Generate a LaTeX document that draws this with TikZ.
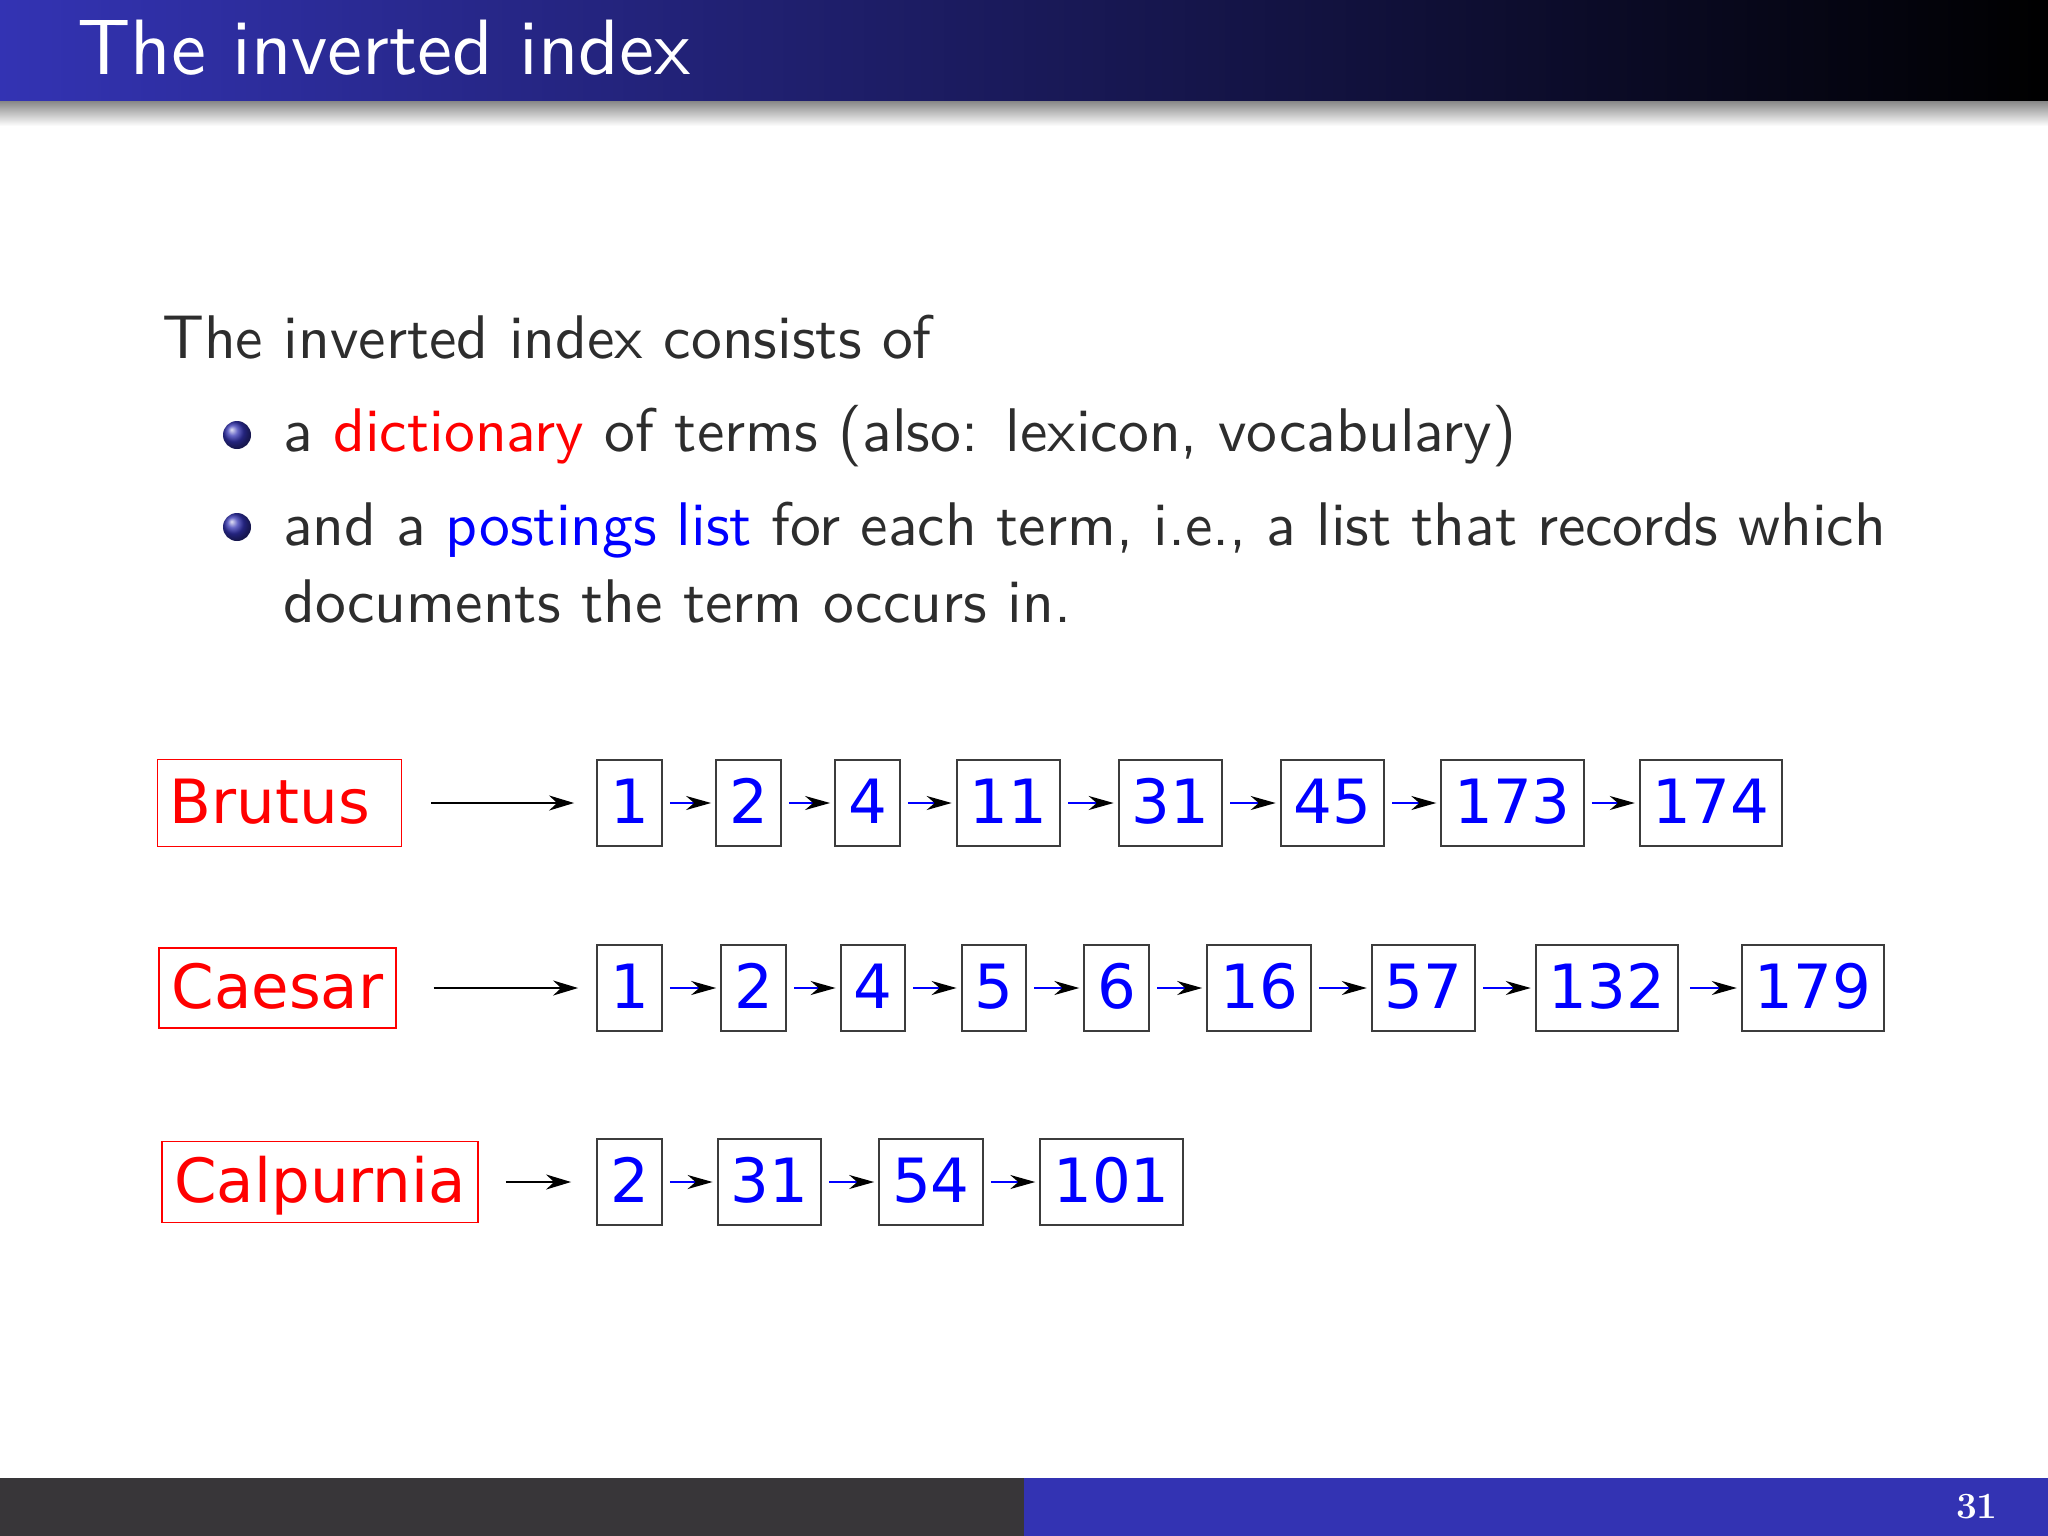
\documentclass[tikz,border=0pt]{standalone}
\usepackage{fontspec}
\newfontfamily\dejavu{DejaVu Sans}
\newfontfamily\lmsansten{lmsans10-regular.otf}
\usetikzlibrary{arrows.meta}
\definecolor{structblue}{RGB}{51,51,179}
\definecolor{headmid}{RGB}{30,28,100}
\definecolor{footgray}{RGB}{56,54,57}
\definecolor{txtgray}{RGB}{45,45,45}
\definecolor{shadowgray}{RGB}{140,140,140}
\definecolor{boxgray}{RGB}{60,60,60}
\tikzset{
  body/.style={anchor=base west, inner sep=0pt, text=txtgray, font=\lmsansten\fontsize{61.6}{74}\selectfont},
  term/.style={draw=red, line width=1.5pt, text=red, font=\dejavu\fontsize{61}{70}\selectfont,
    inner xsep=12.5pt, inner ysep=0pt, text height=45pt, text depth=4pt, minimum height=81pt},
  post/.style={draw=boxgray, line width=2pt, text=blue, font=\dejavu\fontsize{61}{70}\selectfont,
    inner xsep=13pt, inner ysep=0pt, text height=45pt, text depth=4pt, minimum height=86pt},
  link/.style={draw=blue, line width=2pt, -{Stealth[black,length=25pt,width=14pt,inset=8pt]},
    shorten <=7pt, shorten >=4pt},
  ptr/.style={draw=black, line width=2.2pt, -{Stealth[black,length=25pt,width=15pt,inset=8pt]},
    shorten <=29pt, shorten >=22pt},
  bullet/.style={ball color=structblue}
}
\begin{document}
\begin{tikzpicture}[x=1pt,y=-1pt]
\useasboundingbox (0,0) rectangle (2048,1536);
\fill[white] (0,0) rectangle (2048,1536);
% header
\shade[left color=structblue, middle color=headmid, right color=black] (0,0) rectangle (2048,102);
\shade[top color=shadowgray, bottom color=white] (0,102) rectangle (2048,126);
\node[anchor=base west, inner sep=0pt, text=white, font=\lmsansten\fontsize{78.5}{94}\selectfont] (title) at (77,75) {The inverted index};
% body text
\node[body] (intro) at (162,358) {The inverted index consists of};
\shade[bullet] (237,435) circle (14pt);
\node[body] (item1) at (283,451) {a \textcolor{red}{dictionary} of terms (also: lexicon, vocabulary)};
\shade[bullet] (237,527) circle (14pt);
\node[body] (item2) at (283,545) {\makebox[1603pt][s]{and a \textcolor{blue}{postings list} for each term, i.e., a list that records which}};
\node[body] (item2b) at (283,622) {documents the term occurs in.};
% row 1
\node[term, minimum height=87pt] (brutus) at (279.5,803) {Brutus\kern0.318em};
\foreach \n/\x/\t in {1/629.5/1, 2/748.5/2, 3/867.5/4, 4/1008.5/11, 5/1170.5/31, 6/1332.5/45, 7/1512.5/173, 8/1711/174}
  \node[post] (a\n) at (\x,803) {\t};
\draw[ptr] (brutus) -- (a1);
\foreach \i/\j in {1/2,2/3,3/4,4/5,5/6,6/7,7/8}
  \draw[link] (a\i) -- (a\j);
% row 2
\node[term, minimum height=80pt] (caesar) at (277.6,988) {Caesar};
\foreach \n/\x/\t in {1/629.5/1, 2/753.6/2, 3/873/4, 4/994/5, 5/1116.7/6, 6/1259/16, 7/1423.6/57, 8/1607/132, 9/1813/179}
  \node[post] (b\n) at (\x,988) {\t};
\draw[ptr, shorten <=37pt, shorten >=18pt] (caesar) -- (b1);
\foreach \i/\j in {1/2,2/3,3/4,4/5,5/6,6/7,7/8}
  \draw[link] (b\i) -- (b\j);
\draw[link, shorten <=11pt] (b8) -- (b9);
% row 3
\node[term] (calpurnia) at (320,1182) {Calpurnia};
\foreach \n/\x/\t in {1/629.5/2, 2/769.4/31, 3/931/54, 4/1111.5/101}
  \node[post] (c\n) at (\x,1182) {\t};
\draw[ptr, shorten <=27pt, shorten >=25pt] (calpurnia) -- (c1);
\foreach \i/\j in {1/2,2/3,3/4}
  \draw[link] (c\i) -- (c\j);
% footer
\fill[footgray] (0,1478) rectangle (1024,1536);
\fill[structblue] (1024,1478) rectangle (2048,1536);
\node[anchor=base east, inner sep=0pt, text=white, font=\rmfamily\bfseries\fontsize{37}{44}\selectfont] (pagenum) at (1998,1518) {31};
\end{tikzpicture}
\end{document}
